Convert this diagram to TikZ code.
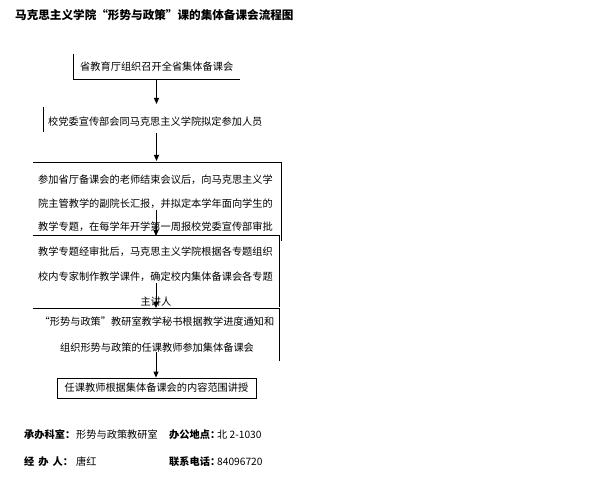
\documentclass[tikz,border=0pt]{standalone}
\usepackage{fontspec}
\setmainfont{Noto Sans CJK SC}
\usetikzlibrary{arrows.meta}
\tikzset{
  edge/.style={line width=0.8pt, black},
  flow/.style={line width=1pt, black, -{Triangle[length=6pt,width=5pt]}},
  txt/.style={inner sep=0pt, font=\fontsize{10.2}{12}\selectfont, anchor=west},
  ctxt/.style={inner sep=0pt, font=\fontsize{10.2}{12}\selectfont},
  boxsix/.style={draw, line width=0.8pt, minimum width=199pt, minimum height=20pt, inner sep=0pt, font=\fontsize{10.2}{12}\selectfont},
  foot/.style={inner sep=0pt, font=\fontsize{10.2}{12}\selectfont, anchor=west},
  footb/.style={inner sep=0pt, font=\fontsize{10.2}{12}\selectfont\bfseries, anchor=west}
}
\begin{document}
\begin{tikzpicture}[x=1pt,y=-1pt]
\useasboundingbox (0,0) rectangle (600,500);
\fill[white] (0,0) rectangle (600,500);

% title
\node[inner sep=0pt, anchor=west, font=\fontsize{11.6}{13}\selectfont\bfseries] (title) at (15,15) {马克思主义学院“形势与政策”课的集体备课会流程图};

% box 1
\coordinate (b1tl) at (73,54);
\coordinate (b1bl) at (73,79);
\coordinate (b1br) at (240,79);
\draw[edge] (b1tl) -- (b1bl) -- (b1br);
\node[txt] (t1) at (80,67) {省教育厅组织召开全省集体备课会};

% box 2
\coordinate (b2t) at (43,107);
\coordinate (b2b) at (43,132);
\draw[edge] (b2t) -- (b2b);
\node[txt] (t2) at (48,121.5) {校党委宣传部会同马克思主义学院拟定参加人员};

% box 3
\coordinate (b3l) at (33,162);
\coordinate (b3r) at (281,162);
\coordinate (b3rb) at (281,241);
\draw[edge] (b3l) -- (b3r) -- (b3rb);
\node[txt] (t3a) at (38,180) {参加省厅备课会的老师结束会议后，向马克思主义学};
\node[txt] (t3b) at (38,204) {院主管教学的副院长汇报，并拟定本学年面向学生的};
\node[txt] (t3c) at (38,227) {教学专题，在每学年开学第一周报校党委宣传部审批};

% box 4
\coordinate (b4l) at (33,235);
\coordinate (b4r) at (279,235);
\coordinate (b4rb) at (279,307);
\draw[edge] (b4l) -- (b4r) -- (b4rb);
\node[txt] (t4a) at (38,252) {教学专题经审批后，马克思主义学院根据各专题组织};
\node[txt] (t4b) at (38,277) {校内专家制作教学课件，确定校内集体备课会各专题};
\node[ctxt] (t4c) at (156,302) {主讲人};

% box 5
\coordinate (b5l) at (33,308);
\coordinate (b5r) at (279,308);
\coordinate (b5rb) at (279,361);
\draw[edge] (b5l) -- (b5r) -- (b5rb);
\node[ctxt] (t5a) at (157,322) {“形势与政策”教研室教学秘书根据教学进度通知和};
\node[ctxt] (t5b) at (157,348) {组织形势与政策的任课教师参加集体备课会};

% box 6
\node[boxsix] (b6) at (156.5,388) {任课教师根据集体备课会的内容范围讲授};

% arrows
\coordinate (a1s) at (156.5,80);
\coordinate (a1e) at (156.5,104);
\coordinate (a2s) at (156.5,133);
\coordinate (a2e) at (156.5,161);
\coordinate (a3s) at (156,210);
\coordinate (a3e) at (156,236);
\coordinate (a4s) at (156,283);
\coordinate (a4e) at (156,308);
\coordinate (a5s) at (156,352);
\draw[flow] (a1s) -- (a1e);
\draw[flow] (a2s) -- (a2e);
\draw[flow] (a3s) -- (a3e);
\draw[flow] (a4s) -- (a4e);
\draw[flow] (a5s) -- (b6.north -| a5s);

% footer
\node[footb] (f1a) at (24,435) {承办科室：};
\node[foot] (f1b) at (76,435) {形势与政策教研室};
\node[footb] (f1c) at (169,435) {办公地点：};
\node[foot] (f1d) at (217,435) {北 2-1030};
\node[footb] (f2a) at (24,462) {经\hspace{4pt}办\hspace{4pt}人：};
\node[foot] (f2b) at (76,462) {唐红};
\node[footb] (f2c) at (169,462) {联系电话：};
\node[foot] (f2d) at (217,462) {84096720};
\end{tikzpicture}
\end{document}
